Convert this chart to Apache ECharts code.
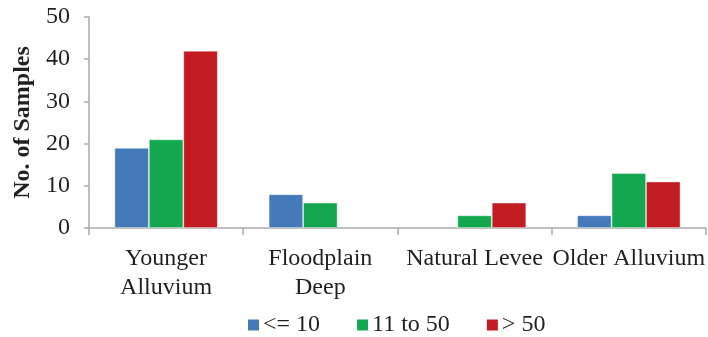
<!DOCTYPE html>
<html><head><meta charset="utf-8">
<script src="https://cdn.jsdelivr.net/npm/echarts@6/dist/echarts.min.js"></script>
<style>html,body{margin:0;padding:0;background:#fff}#c{width:708px;height:337px}</style>
</head><body><div id="c"></div>
<script>
const categories = ["Younger\nAlluvium", "Floodplain\nDeep", "Natural Levee", "Older Alluvium"];
const seriesNames = ["<= 10", "11 to 50", "> 50"];
const le10 = [19, 8, 0, 3];
const from11to50 = [21, 6, 3, 13];
const gt50 = [42, 0, 6, 11];
const yTicks = [0, 10, 20, 30, 40, 50];

const colors = ["#4479BA", "#13A84F", "#C21B22"];
const font = "'Liberation Serif', 'Times New Roman', serif";
const chart = echarts.init(document.getElementById('c'));
const data = [le10, from11to50, gt50];
chart.setOption({
  animation: false,
  textStyle: {fontFamily: font},
  grid: {left: 89, right: 1, top: 17, bottom: 109},
  legend: {
    data: seriesNames, left: 243, top: 308, icon: 'rect', itemWidth: 11, itemHeight: 11, itemGap: 37,
    textStyle: {fontFamily: font, fontSize: 24, color: '#231F20', padding: [0, 0, 0, -1]}
  },
  xAxis: {
    type: 'category', data: categories,
    axisLine: {lineStyle: {color: '#ABABAB', width: 1.5}},
    axisTick: {show: true, alignWithLabel: false, length: 7, lineStyle: {color: '#ABABAB', width: 1.5}},
    axisLabel: {fontFamily: font, fontSize: 24, color: '#231F20', margin: 16, lineHeight: 29, interval: 0}
  },
  yAxis: {
    type: 'value', min: yTicks[0], max: yTicks[yTicks.length - 1], interval: 10,
    name: 'No. of Samples', nameLocation: 'middle', nameGap: 54,
    nameTextStyle: {fontFamily: font, fontSize: 24, fontWeight: 'bold', color: '#231F20'},
    axisLine: {show: true, lineStyle: {color: '#ABABAB', width: 1.5}},
    axisTick: {show: true, length: 5, lineStyle: {color: '#ABABAB', width: 1.5}},
    splitLine: {show: false},
    axisLabel: {fontFamily: font, fontSize: 24, color: '#231F20', margin: 19}
  },
  series: seriesNames.map((n, i) => ({
    name: n, type: 'bar', barGap: '0%', barCategoryGap: '33%',
    data: data[i].map(v => ({value: v, itemStyle: {borderWidth: v === 0 ? 0 : 0.8}})),
    itemStyle: {color: colors[i], borderColor: 'rgba(255,255,255,0.5)'}
  }))
});
</script></body></html>
